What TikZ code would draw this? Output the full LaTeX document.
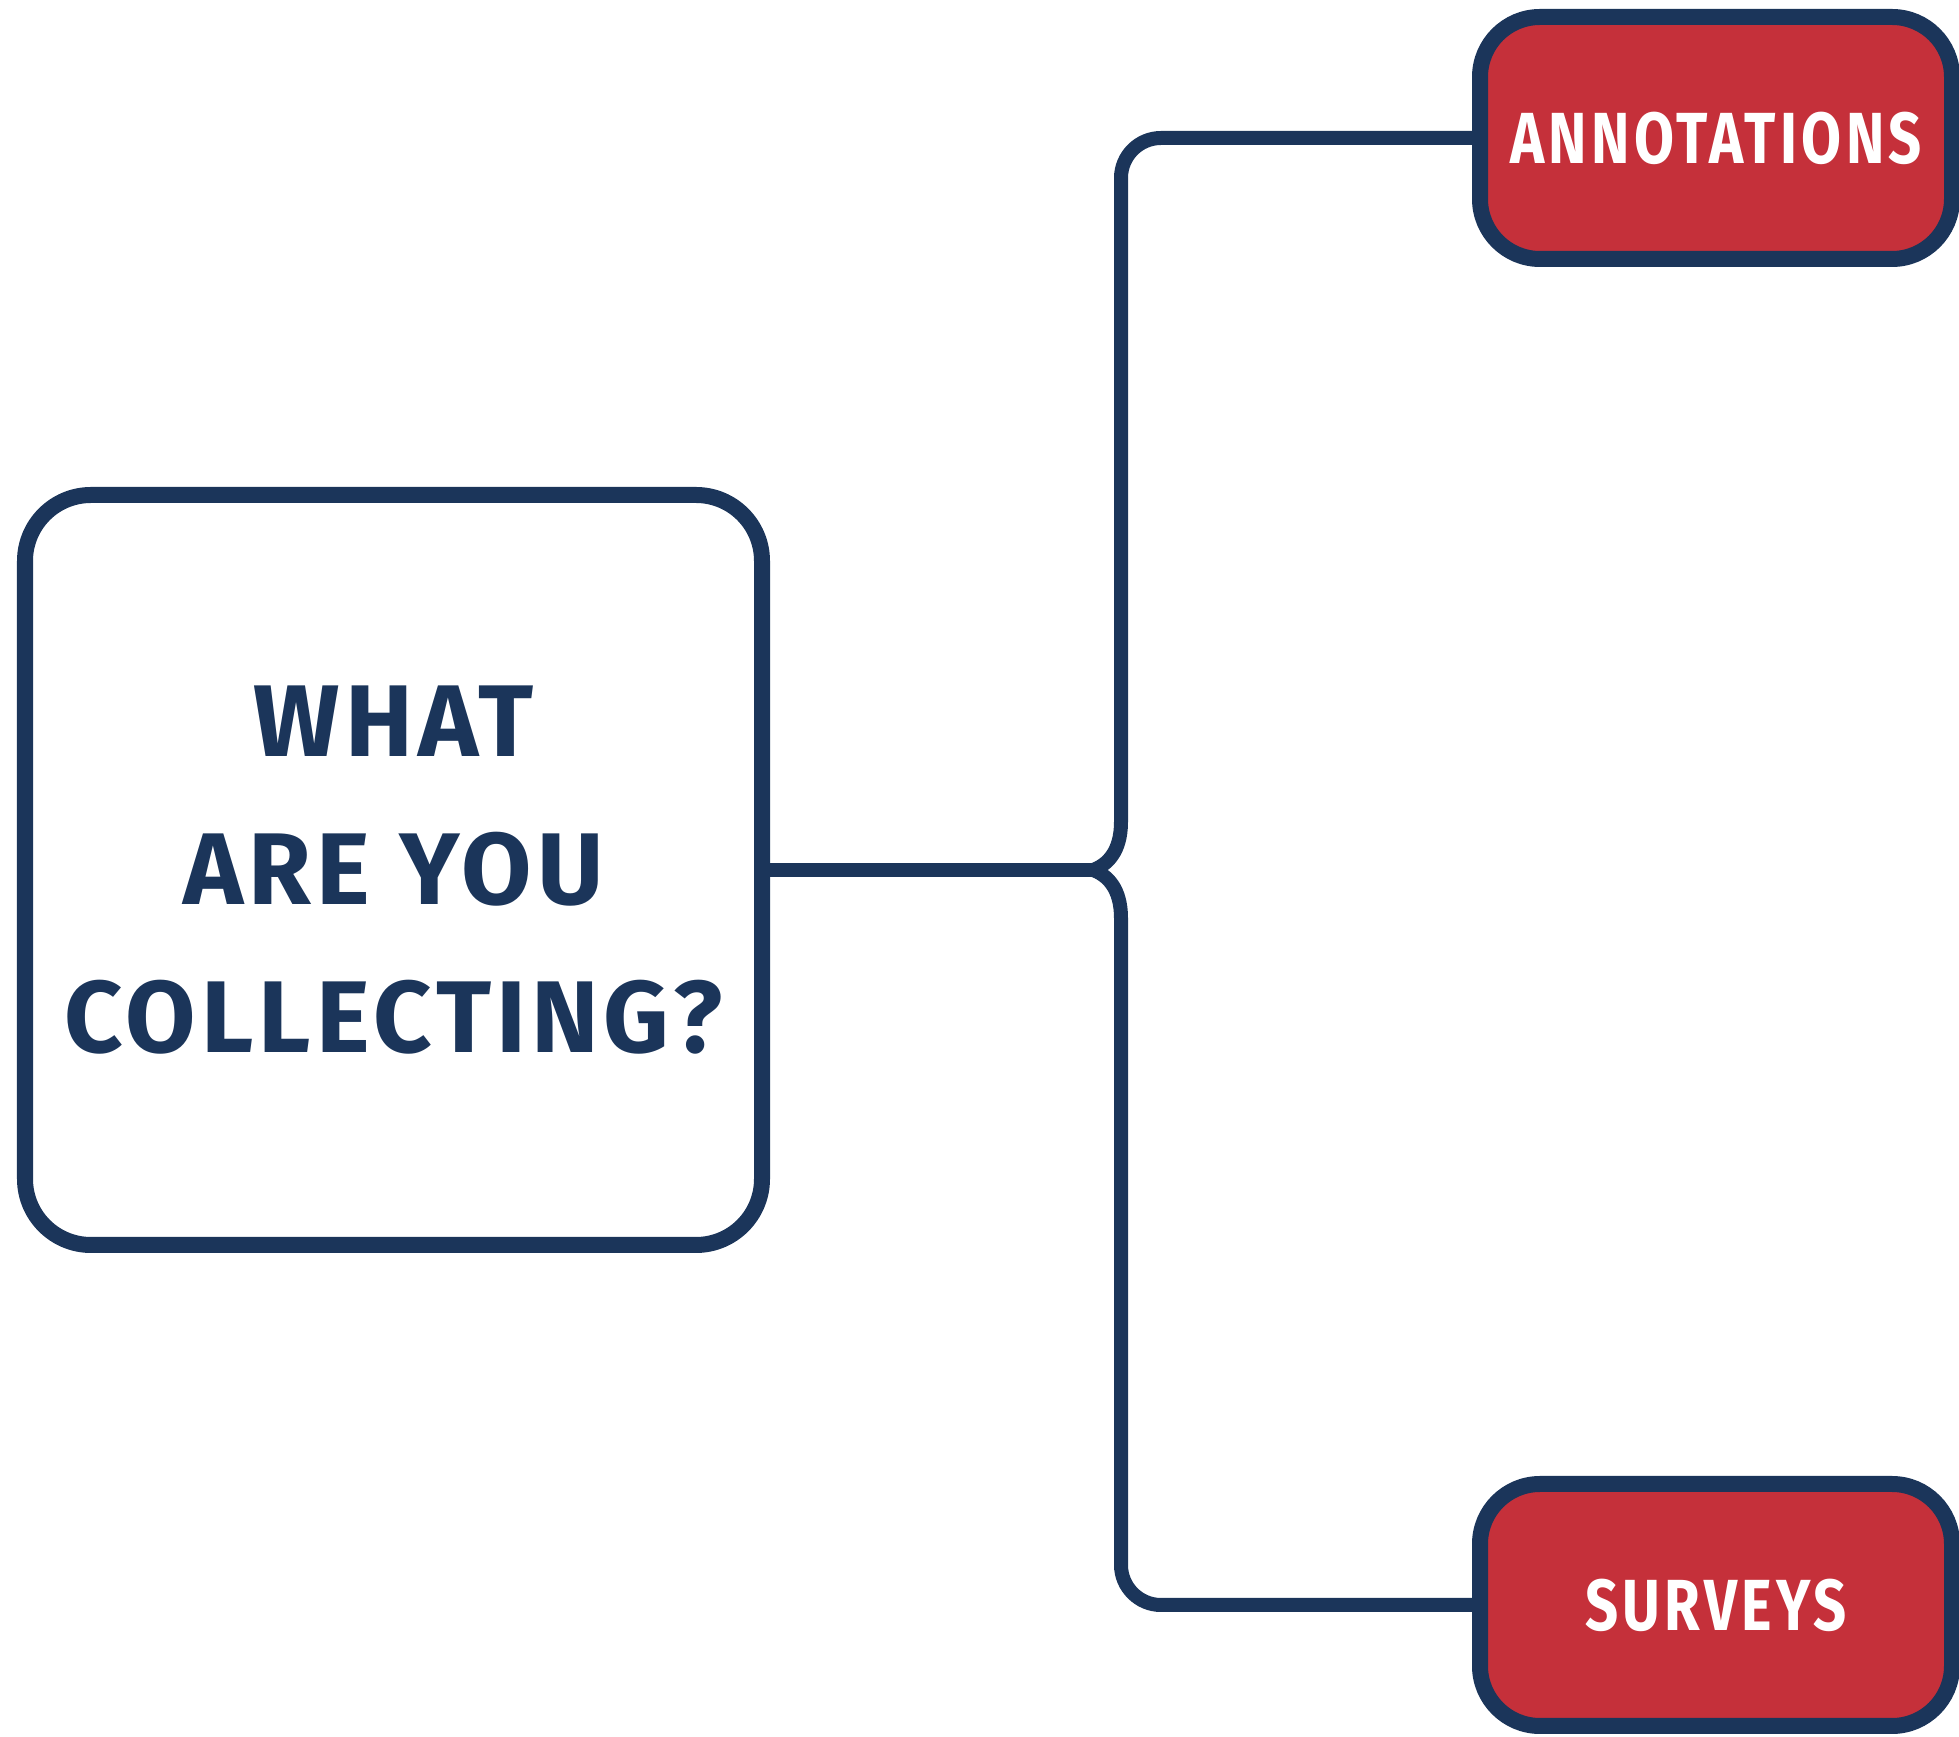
\documentclass[tikz,border=0pt]{standalone}
\usepackage{fontspec}
\setmainfont{Fira Sans}
\newfontfamily\askfont[LetterSpace=5]{Fira Sans}
\newfontfamily\tagfont[FakeStretch=0.8, LetterSpace=6]{Fira Sans}
\usepackage{tikz}
\usetikzlibrary{positioning}
\definecolor{navy}{HTML}{1B355A}
\definecolor{brick}{HTML}{C5303A}

\begin{document}
\begin{tikzpicture}[
    question/.style={draw=navy, line width=0.16cm, rounded corners=0.66cm,
        minimum width=7.37cm, minimum height=7.5cm, align=center, text=navy,
        font=\askfont\bfseries\fontsize{29}{42}\selectfont},
    answer/.style={draw=navy, fill=brick, line width=0.16cm, rounded corners=0.6cm,
        minimum width=4.72cm, minimum height=2.42cm, text=white,
        font=\tagfont\bfseries\fontsize{20.6}{24}\selectfont},
    link/.style={draw=navy, line width=0.14cm}
]
\useasboundingbox (0,0) rectangle (19.59,17.37);

% Blocchi
\node[question] (ask) at (3.935,8.67) {WHAT\\ARE YOU\\COLLECTING?};
\node[answer] (ann) at (17.16,15.99) {ANNOTATIONS};
\node[answer] (surv) at (17.16,1.32) {SURVEYS};

% Collegamenti
\coordinate (hub) at (10.93,8.67);
\coordinate (up) at (11.21,9.15);
\coordinate (down) at (11.21,8.19);
\draw[link] (ask.east) -- (hub);
\draw[link] (hub) .. controls (11.07,8.72) and (11.21,8.85) .. (up);
\draw[link] (hub) .. controls (11.07,8.62) and (11.21,8.49) .. (down);
\draw[link, rounded corners=0.4cm] (up) |- (ann.west);
\draw[link, rounded corners=0.4cm] (down) |- (surv.west);

\end{tikzpicture}
\end{document}
